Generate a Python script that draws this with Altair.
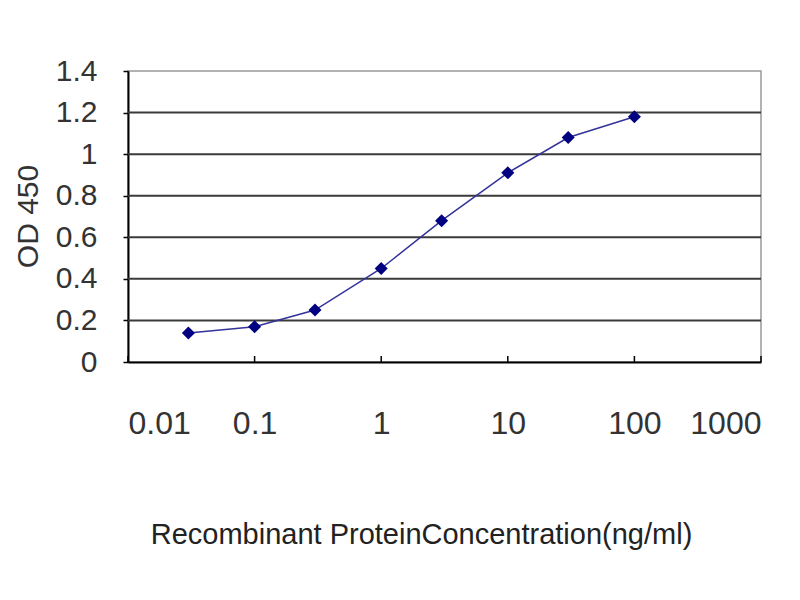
import altair as alt
import pandas as pd

# ELISA standard curve values
concentration = [0.03, 0.1, 0.3, 1, 3, 10, 30, 100]
od450 = [0.14, 0.17, 0.25, 0.45, 0.68, 0.91, 1.08, 1.18]

x_ticks = [0.01, 0.1, 1, 10, 100, 1000]
y_ticks = [0, 0.2, 0.4, 0.6, 0.8, 1.0, 1.2, 1.4]
grid_lines = [0.2, 0.4, 0.6, 0.8, 1.0, 1.2]

FONT = "Liberation Sans"
W, H = 633, 291

curve = pd.DataFrame({"conc": concentration, "od": od450})
grid = pd.DataFrame({"od": grid_lines})
ticks = pd.DataFrame({"conc": x_ticks})

x_scale = alt.Scale(type="log", domain=[0.01, 1000], nice=False)
y_scale = alt.Scale(domain=[0, 1.4], nice=False)

x_axis = alt.Axis(
    values=x_ticks, format="~g", grid=False, ticks=False, tickSize=0,
    domainColor="#000", domainWidth=2,
    labelFont=FONT, labelFontSize=32, labelColor="#333",
    labelBaseline="alphabetic", labelPadding=71,
    title="Recombinant ProteinConcentration(ng/ml)",
    titleFont=FONT, titleFontSize=29, titleFontWeight="normal", titleColor="#222",
    titleBaseline="alphabetic", titleAnchor="start", titleAlign="center",
    titleX=293, titleY=181,
)
y_axis = alt.Axis(
    values=y_ticks, format="~g", grid=False, tickSize=5, tickColor="#000", tickWidth=1.5,
    domainColor="#000", domainWidth=2,
    labelFont=FONT, labelFontSize=30, labelColor="#333", labelPadding=26,
    title="OD 450", titleFont=FONT, titleFontSize=30, titleFontWeight="normal",
    titleColor="#333", titleAngle=-90, titleAlign="center", titleBaseline="top",
    titleX=-115, titleY=145,
)

gridlines = alt.Chart(grid).mark_rule(color="#3a3a3a", strokeWidth=2).encode(
    y=alt.Y("od:Q", scale=y_scale, axis=y_axis),
)

x_tick_marks = alt.Chart(ticks).mark_rule(color="#000", strokeWidth=1.5).encode(
    x=alt.X("conc:Q", scale=x_scale, axis=x_axis),
    y=alt.value(H),
    y2=alt.value(H - 6),
)

line = alt.Chart(curve).mark_line(color="#33339a", strokeWidth=1.5).encode(
    x=alt.X("conc:Q", scale=x_scale),
    y=alt.Y("od:Q", scale=y_scale),
)

points = alt.Chart(curve).mark_point(
    shape="diamond", filled=True, size=170, color="#000080", opacity=1
).encode(
    x=alt.X("conc:Q", scale=x_scale),
    y=alt.Y("od:Q", scale=y_scale),
)

chart = alt.layer(gridlines, x_tick_marks, line, points).properties(
    width=W, height=H,
    autosize=alt.AutoSizeParams(type="none"),
    padding={"left": 120, "top": 63, "right": 31, "bottom": 200},
    background="white",
).configure_view(stroke="#999", strokeWidth=1.5)

chart.save("out.html", embed_options={"renderer": "svg", "actions": False})
